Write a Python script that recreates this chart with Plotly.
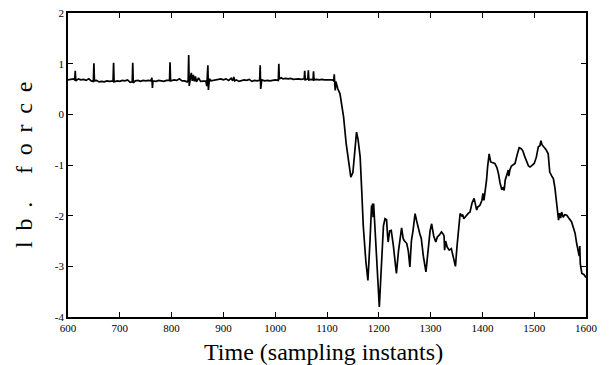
import plotly.graph_objects as go

# sampling instants and force readings (lb.)
time = [
    600, 605, 610, 613, 614, 615, 620, 625, 630, 635, 640, 645, 649, 650, 651, 655, 660, 665, 670, 675,
    680, 687, 688, 689, 695, 700, 705, 710, 715, 720, 724, 725, 726, 730, 735, 740, 745, 750, 755, 760,
    762, 763, 764, 770, 775, 780, 785, 790, 796, 797, 798, 805, 810, 815, 820, 825, 830, 832, 833, 834,
    836, 838, 840, 842, 844, 846, 848, 852, 856, 860, 866, 868, 870, 871, 873, 876, 880, 885, 890, 895,
    900, 905, 910, 915, 918, 920, 922, 925, 930, 935, 940, 945, 950, 955, 960, 965, 970, 971, 972, 974,
    980, 985, 990, 995, 1000, 1006, 1007, 1008, 1012, 1015, 1020, 1025, 1030, 1035, 1040, 1045, 1050, 1056, 1057, 1058,
    1063, 1064, 1065, 1070, 1073, 1074, 1075, 1080, 1085, 1090, 1095, 1100, 1105, 1110, 1113, 1114, 1115, 1116, 1117, 1119,
    1121, 1125, 1128, 1130, 1132, 1137, 1142, 1146, 1150, 1154, 1157, 1160, 1164, 1167, 1170, 1175, 1179, 1183, 1186, 1187,
    1188, 1189, 1190, 1192, 1196, 1201, 1205, 1209, 1212, 1215, 1217, 1218, 1221, 1224, 1228, 1231, 1234, 1238, 1241, 1244,
    1247, 1249, 1254, 1257, 1260, 1263, 1266, 1270, 1273, 1276, 1279, 1282, 1286, 1291, 1295, 1299, 1302, 1306, 1310, 1313,
    1317, 1321, 1324, 1326, 1327, 1329, 1332, 1336, 1340, 1343, 1348, 1351, 1354, 1357, 1360, 1362, 1364, 1367, 1370, 1373,
    1376, 1380, 1384, 1387, 1389, 1391, 1395, 1399, 1401, 1403, 1406, 1408, 1410, 1413, 1416, 1420, 1424, 1428, 1431, 1434,
    1437, 1440, 1442, 1444, 1447, 1450, 1451, 1453, 1456, 1460, 1463, 1467, 1471, 1475, 1478, 1482, 1486, 1489, 1492, 1496,
    1500, 1504, 1508, 1511, 1513, 1515, 1519, 1523, 1527, 1530, 1534, 1537, 1540, 1543, 1545, 1547, 1549, 1551, 1553, 1556,
    1559, 1563, 1567, 1572, 1576, 1579, 1582, 1585, 1587, 1588, 1589, 1592, 1596, 1600,
]
force = [
    0.68, 0.69, 0.70, 0.68, 0.86, 0.66, 0.70, 0.68, 0.69, 0.67, 0.70, 0.66, 0.65, 1.01, 0.66, 0.67, 0.64, 0.65, 0.64, 0.66,
    0.65, 0.66, 1.02, 0.64, 0.66, 0.65, 0.67, 0.66, 0.68, 0.63, 0.64, 1.02, 0.62, 0.66, 0.67, 0.65, 0.67, 0.66, 0.67, 0.66,
    0.72, 0.52, 0.66, 0.65, 0.67, 0.66, 0.65, 0.67, 0.67, 1.03, 0.66, 0.68, 0.67, 0.70, 0.66, 0.66, 0.64, 0.67, 1.17, 0.56,
    0.68, 0.82, 0.66, 0.78, 0.65, 0.75, 0.64, 0.72, 0.65, 0.66, 0.66, 0.56, 0.97, 0.48, 0.70, 0.66, 0.67, 0.68, 0.68, 0.70,
    0.68, 0.70, 0.67, 0.71, 0.66, 0.74, 0.66, 0.68, 0.65, 0.67, 0.68, 0.67, 0.69, 0.65, 0.67, 0.66, 0.67, 0.97, 0.50, 0.68,
    0.66, 0.67, 0.66, 0.67, 0.68, 0.67, 1.00, 0.70, 0.72, 0.70, 0.71, 0.70, 0.71, 0.69, 0.70, 0.70, 0.69, 0.70, 0.86, 0.68,
    0.70, 0.87, 0.68, 0.69, 0.68, 0.85, 0.68, 0.69, 0.68, 0.69, 0.68, 0.68, 0.67, 0.68, 0.66, 0.79, 0.60, 0.47, 0.65, 0.55,
    0.50, 0.41, 0.20, 0.01, -0.05, -0.58, -0.98, -1.24, -1.15, -0.70, -0.35, -0.50, -0.84, -1.50, -2.20, -2.90, -3.28, -2.50, -1.80, -1.90,
    -1.76, -2.03, -1.76, -2.10, -3.00, -3.80, -3.00, -2.20, -2.06, -2.08, -2.40, -2.52, -2.30, -2.29, -2.58, -2.90, -3.14, -2.70, -2.40, -2.24,
    -2.45, -2.49, -2.55, -2.70, -3.01, -2.49, -2.30, -1.96, -2.10, -2.26, -2.35, -2.45, -2.80, -3.11, -2.70, -2.30, -2.16, -2.40, -2.52, -2.42,
    -2.38, -2.32, -2.36, -2.40, -2.68, -2.50, -2.62, -2.68, -2.65, -2.80, -3.00, -2.60, -2.20, -1.96, -2.00, -1.98, -2.06, -2.02, -1.98, -1.95,
    -1.93, -1.75, -1.66, -1.78, -1.89, -1.83, -1.80, -1.70, -1.56, -1.70, -1.50, -1.30, -1.04, -0.78, -0.94, -0.96, -0.97, -1.05, -1.17, -1.35,
    -1.47, -1.45, -1.50, -1.30, -1.20, -1.10, -1.22, -1.10, -1.02, -1.00, -0.97, -0.80, -0.66, -0.68, -0.72, -0.84, -0.96, -1.02, -1.04, -1.00,
    -0.97, -0.85, -0.64, -0.62, -0.52, -0.60, -0.65, -0.70, -0.78, -1.14, -1.22, -1.27, -1.45, -1.70, -1.90, -2.09, -1.95, -2.05, -1.93, -2.03,
    -1.98, -1.99, -2.05, -2.12, -2.25, -2.35, -2.55, -2.68, -2.80, -2.60, -2.95, -3.14, -3.16, -3.22,
]

x_ticks = [600, 700, 800, 900, 1000, 1100, 1200, 1300, 1400, 1500, 1600]
y_ticks = [-4, -3, -2, -1, 0, 1, 2]

x_title = "Time (sampling instants)"
y_title = "lb. force"

serif = "Liberation Serif, Times New Roman, serif"

fig = go.Figure()
fig.add_trace(go.Scatter(x=time, y=force, mode="lines",
                         line=dict(color="black", width=1.7), showlegend=False,
                         hoverinfo="skip"))

axis_common = dict(showline=True, linecolor="black", linewidth=1.6, mirror="ticks",
                   ticks="inside", ticklen=5, tickwidth=1.2, tickcolor="black",
                   showgrid=False, zeroline=False, automargin=False,
                   ticklabeloverflow="allow",
                   tickfont=dict(family=serif, size=11, color="black"))

fig.update_xaxes(range=[600, 1600], tickvals=x_ticks, ticktext=[str(v) for v in x_ticks],
                 **axis_common)
fig.update_yaxes(range=[-4, 2], tickvals=y_ticks, ticktext=[str(v) for v in y_ticks],
                 **axis_common)

gap = "\u00a0\u2009"
letters = list(y_title)
spaced_y = ""
for i, ch in enumerate(letters):
    if ch == " ":
        spaced_y += "\u00a0" + gap
        continue
    spaced_y += ch
    if i < len(letters) - 1:
        spaced_y += gap

fig.add_annotation(text=x_title, xref="paper", yref="paper", x=0.494, y=-0.115,
                   xanchor="center", yanchor="middle", showarrow=False,
                   font=dict(family=serif, size=24, color="black"))
fig.add_annotation(text=spaced_y, xref="paper", yref="paper", x=-0.085, y=0.5,
                   xanchor="center", yanchor="middle", showarrow=False, textangle=-90,
                   font=dict(family=serif, size=24, color="black"))

# the page body adds an 8px offset; compensate so the plot lands where the reference has it
fig.update_layout(width=603, height=357, margin=dict(l=60, r=25, t=5, b=48),
                  plot_bgcolor="white", paper_bgcolor="white")

fig.write_html("out.html")
